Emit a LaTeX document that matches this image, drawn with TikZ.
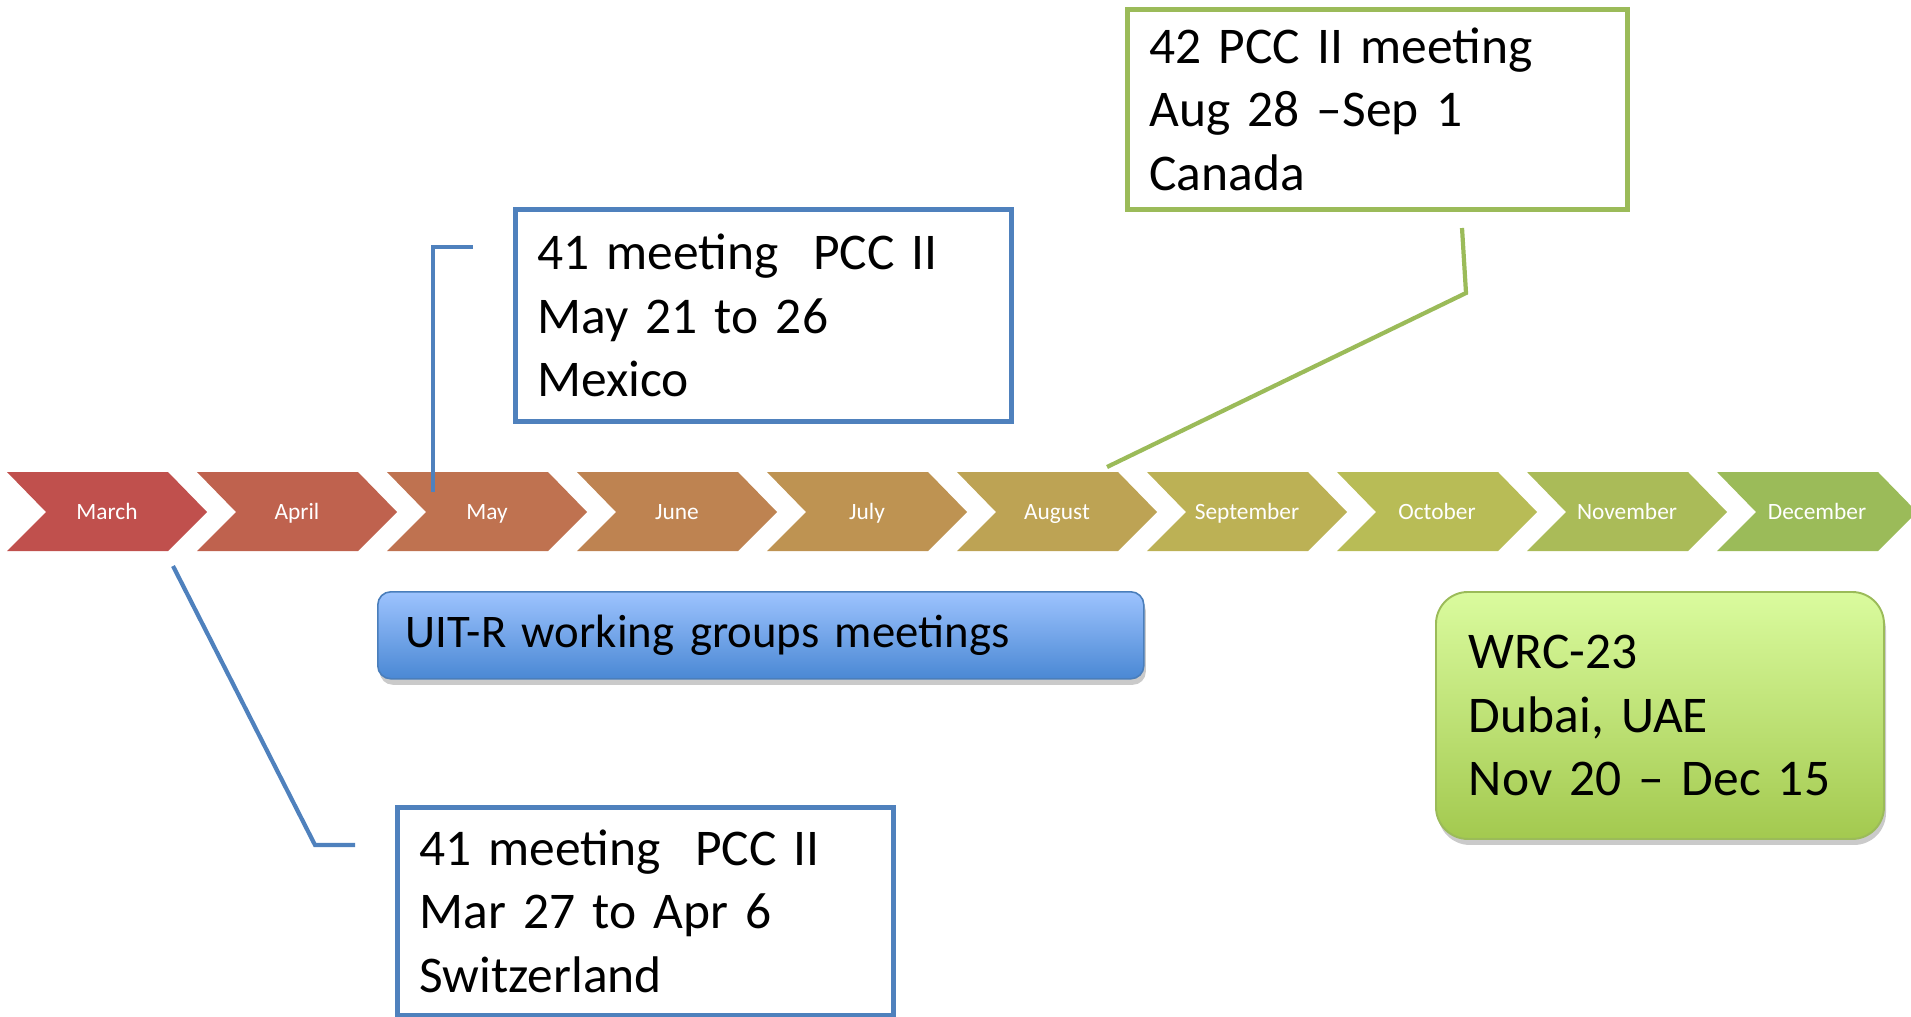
\documentclass[tikz,border=0pt]{standalone}
\usepackage{fontspec}
\setmainfont{Carlito}
\usetikzlibrary{positioning, shadows}

% month colours, red to green
\definecolor{mon0}{HTML}{C0504D}
\definecolor{mon1}{HTML}{BF624E}
\definecolor{mon2}{HTML}{BF7250}
\definecolor{mon3}{HTML}{BE8351}
\definecolor{mon4}{HTML}{BE9352}
\definecolor{mon5}{HTML}{BDA354}
\definecolor{mon6}{HTML}{BCB155}
\definecolor{mon7}{HTML}{B8BC56}
\definecolor{mon8}{HTML}{AABB58}
\definecolor{mon9}{HTML}{9BBB59}

\definecolor{pccblue}{HTML}{4F81BD}
\definecolor{pccgreen}{HTML}{9BBB59}
\definecolor{uittop}{HTML}{9DC3FE}
\definecolor{uitbot}{HTML}{4A88D4}
\definecolor{uitline}{HTML}{4A7EBB}
\definecolor{wrctop}{HTML}{DAFB9E}
\definecolor{wrcbot}{HTML}{A3C94F}

\newcommand\bigtxt{\fontsize{29.3}{36.3}\selectfont}
\newcommand\uittxt{\fontsize{26.6}{32}\selectfont}

\tikzset{
  monthlabel/.style={text=white, font=\fontsize{13.3}{16}\selectfont,
    text height=1.55ex, text depth=0.3ex},
  pccbox/.style={draw=#1, line width=2.7pt, fill=white, anchor=north west,
    inner xsep=4.4mm, inner ysep=0pt, align=left, font=\bigtxt},
  roundbox/.style={anchor=north west, inner ysep=0pt, align=left,
    drop shadow={shadow xshift=0.4mm, shadow yshift=-1.2mm, fill=black!60, opacity=0.35}},
  link/.style={line width=2.4pt},
}

\begin{document}
\begin{tikzpicture}[x=0.2mm, y=-0.2mm]

    \useasboundingbox (0,0) rectangle (1911,1016);

    % ================================
    % Months

    \foreach \m [count=\i from 0] in {March,April,May,June,July,August,September,October,November,December}{
      \pgfmathsetmacro{\x}{7+190*\i}
      \fill[mon\i] (\x,472) -- ++(161,0) -- ++(39,40) -- ++(-39,39) -- ++(-161,0) -- ++(39,-39) -- cycle;
      \node[monthlabel] (\m) at (\x+100,514) {\m};
    }

    % ================================
    % Meetings

    % Mexico
    \node[pccbox=pccblue, text width=90.4mm, minimum height=42.4mm] (mexico) at (513,207)
      {41 meeting~ PCC II\\May 21 to 26\\Mexico};

    % Switzerland
    \node[pccbox=pccblue, text width=90.4mm, minimum height=41.6mm] (swiss) at (395,805)
      {41 meeting~ PCC II\\Mar 27 to Apr 6\\Switzerland};

    % Canada
    \node[pccbox=pccgreen, text width=91.2mm, minimum height=40mm] (canada) at (1125,7)
      {42 PCC II meeting\\Aug 28 –Sep 1\\Canada};

    % UIT-R
    \node[roundbox, draw=uitline, line width=0.9pt, top color=uittop, bottom color=uitbot,
      rounded corners=2.6mm, inner xsep=5.6mm, text width=142mm, minimum height=17.4mm,
      font=\uittxt] (uit) at (377,591) {UIT-R working groups meetings};

    % WRC
    \node[roundbox, draw=pccgreen, line width=1.1pt, top color=wrctop, bottom color=wrcbot,
      rounded corners=6.4mm, inner xsep=6.6mm, text width=76.4mm, minimum height=49.4mm,
      font=\bigtxt] (wrc) at (1435,591) {WRC-23\\Dubai, UAE\\Nov 20 – Dec 15};

    % ================================
    % Links

    \coordinate (mayfoot) at (433,492);
    \coordinate (mayend) at (473,247);
    \draw[link, pccblue] (mayfoot) |- (mayend);

    \coordinate (marfoot) at (173,566);
    \coordinate (marbend) at (315,845);
    \coordinate (marend) at (355,845);
    \draw[link, pccblue] (marfoot) -- (marbend) -- (marend);

    \coordinate (augfoot) at (1107,467);
    \coordinate (augbend) at (1466,293);
    \coordinate (augend) at (1462,228);
    \draw[link, pccgreen] (augfoot) -- (augbend) -- (augend);

\end{tikzpicture}
\end{document}
